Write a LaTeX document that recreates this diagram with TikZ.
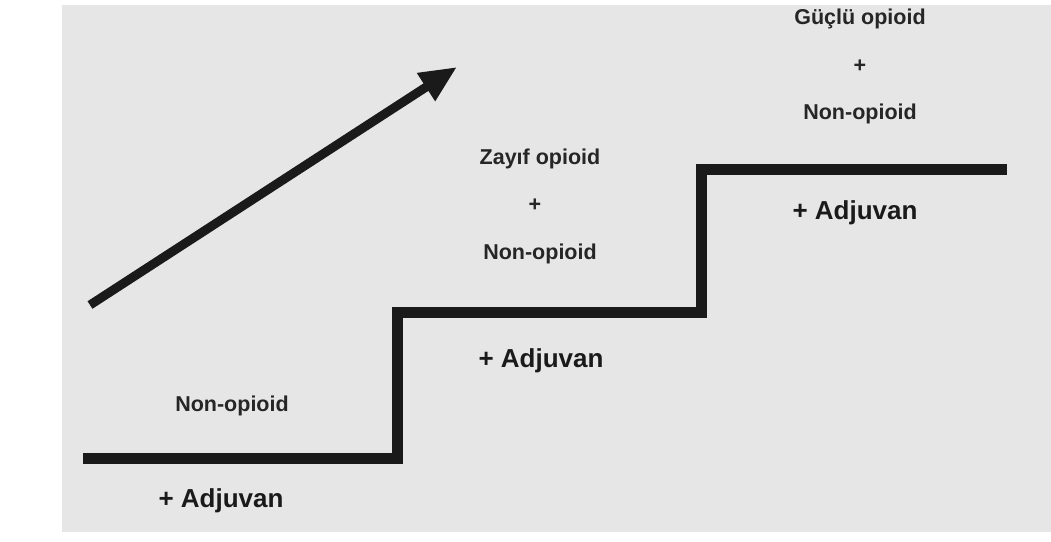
\documentclass[tikz,border=0pt]{standalone}
\usepackage{fontspec}
\setmainfont{Liberation Sans}
\usetikzlibrary{arrows.meta}
\definecolor{bggray}{HTML}{E6E6E6}
\definecolor{inkblack}{HTML}{1A1A1A}
\definecolor{txtgray}{HTML}{262626}
\tikzset{
  smalltxt/.style={anchor=base, inner sep=0pt, text=txtgray, font=\fontsize{21.5}{24}\selectfont\bfseries},
  bigtxt/.style={anchor=base, inner sep=0pt, text=inkblack, font=\fontsize{26}{30}\selectfont\bfseries},
  stair/.style={draw=inkblack, line width=11pt, line join=miter, line cap=butt},
  risearrow/.style={draw=inkblack, line width=9pt, -{Triangle[length=37pt,width=31pt]}}
}
\begin{document}
\begin{tikzpicture}[x=1pt,y=-1pt]
\useasboundingbox (0,0) rectangle (1051,541);
\fill[white] (0,0) rectangle (1051,541);
\fill[bggray] (62,5) rectangle (1051,532);
% staircase
\coordinate (s0) at (83,458.5);
\coordinate (s1) at (397,458.5);
\coordinate (s2) at (397,312);
\coordinate (s3) at (701,312);
\coordinate (s4) at (701,169.5);
\coordinate (s5) at (1007,169.5);
\draw[stair] (s0) -- (s1) -- (s2) -- (s3) -- (s4) -- (s5);
% arrow
\coordinate (atail) at (90,305);
\coordinate (ahead) at (457,67);
\draw[risearrow] (atail) -- (ahead);
% step 1
\node[smalltxt] (n1) at (232,411) {Non-opioid};
\node[bigtxt] (a1) at (221,507) {+ Adjuvan};
% step 2
\node[smalltxt] (z2) at (540,164) {Zayıf opioid};
\node[smalltxt] (p2) at (535,211) {+};
\node[smalltxt] (n2) at (540,259) {Non-opioid};
\node[bigtxt] (a2) at (541,367) {+ Adjuvan};
% step 3
\node[smalltxt] (g3) at (860,24) {Güçlü opioid};
\node[smalltxt] (p3) at (860,72) {+};
\node[smalltxt] (n3) at (860,119) {Non-opioid};
\node[bigtxt] (a3) at (855,219) {+ Adjuvan};
\end{tikzpicture}
\end{document}
